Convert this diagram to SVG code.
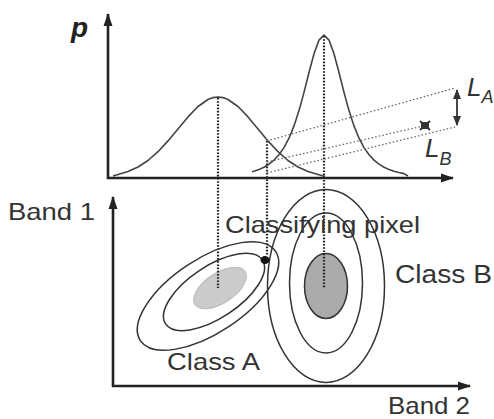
<svg xmlns="http://www.w3.org/2000/svg" width="494" height="419" viewBox="0 0 494 419">
<style>
.axis{stroke:#222;stroke-width:2.6;fill:none}
.curve{stroke:#444;stroke-width:1.6;fill:none;stroke-linejoin:round}
.drop{stroke:#222;stroke-width:2.2;stroke-dasharray:1.6 1.6;fill:none}
.proj{stroke:#666;stroke-width:1.3;stroke-dasharray:1.5 2.2;fill:none}
.ell{stroke:#333;stroke-width:1.5;fill:none}
.lbl{font-family:"Liberation Sans",Arial,sans-serif;font-size:24px;fill:#333}
.it{font-family:"Liberation Sans",Arial,sans-serif;font-style:italic;fill:#333}
</style>
<defs>
<marker id="ah" markerUnits="userSpaceOnUse" markerWidth="13" markerHeight="10" refX="12" refY="5" orient="auto"><path d="M0,0.5 L13,5 L0,9.5 z" fill="#222"/></marker>
<marker id="ah2" markerUnits="userSpaceOnUse" markerWidth="10" markerHeight="9" refX="9" refY="4.5" orient="auto-start-reverse"><path d="M0,0.5 L10,4.5 L0,8.5 z" fill="#333"/></marker>
</defs>
<rect width="494" height="419" fill="#fff"/>
<g id="ellipses-a">
<ellipse class="ell" cx="208" cy="296" rx="81" ry="37" transform="rotate(-33.4 208 296)"/>
<ellipse class="ell" cx="214" cy="292" rx="58" ry="26" transform="rotate(-33.4 214 292)"/>
<ellipse id="core-a" cx="220" cy="288" rx="30" ry="15" transform="rotate(-33.4 220 288)" fill="#cbcbcb" stroke="#bbb" stroke-width="1"/>
</g>
<g id="ellipses-b">
<ellipse class="ell" cx="326" cy="286" rx="58.5" ry="96.5"/>
<ellipse class="ell" cx="326" cy="283" rx="36.5" ry="70"/>
<ellipse id="core-b" cx="326" cy="286" rx="21.5" ry="32.5" fill="#ababab" stroke="#333" stroke-width="1.5"/>
</g>
<g id="curve-a">
<polyline class="curve" points="113,176 118,174.4 128,171.6 138,167 148,160.5 158,151.7 168,140.9 178,128.9 188,116.9 198,106.5 208,99.5 213,97.6 218,97 223,97.6 228,99.5 238,106.5 248,116.9 258,128.9 268,140.9 278,151.7 288,160.5 298,167 308,171.6 318,174.4 325,176.5"/>
</g>
<g id="curve-b">
<polyline class="curve" points="252,171.8 254,171.2 259,169.4 264,167.2 269,164.1 274,160.1 279,154.7 284,147.6 289,138.2 294,125.9 299,110.6 304,92.4 309,72.5 314,53.8 319,40.1 321.5,37.6 324,35 326.5,37.6 329,40.1 334,53.8 339,72.5 344,92.4 349,110.6 354,125.9 359,138.2 364,147.6 369,154.7 374,160.1 379,164.1 384,167.2 389,169.4 394,171.2 399,172.5 404,173.6 408,176"/>
</g>
<g id="connectors">
<line class="drop" x1="218" y1="98" x2="218" y2="288"/>
<line class="drop" x1="324" y1="36" x2="324" y2="288"/>
<line class="drop" x1="267" y1="141" x2="267" y2="256"/>
<line class="proj" x1="267" y1="141" x2="455" y2="88"/>
<line class="proj" x1="267" y1="162" x2="423" y2="126"/>
<line class="proj" x1="267" y1="173" x2="455" y2="127"/>
<line x1="457" y1="90" x2="457" y2="125" stroke="#333" stroke-width="1.8" marker-start="url(#ah2)" marker-end="url(#ah2)"/>
</g>
<g id="axes">
<line class="axis" x1="108" y1="179" x2="108" y2="14" marker-end="url(#ah)"/>
<line class="axis" x1="107" y1="178" x2="453" y2="178" marker-end="url(#ah)"/>
<line class="axis" x1="113" y1="387" x2="113" y2="197" marker-end="url(#ah)"/>
<line class="axis" x1="112" y1="386" x2="470" y2="386" marker-end="url(#ah)"/>
</g>
<g id="pixel">
<ellipse cx="265" cy="260" rx="4.5" ry="4" fill="#111"/>
</g>
<g id="marker-x">
<rect x="421" y="122" width="8" height="7" fill="#333"/>
<path d="M420,121 L430,130 M430,121 L420,130" stroke="#333" stroke-width="2"/>
</g>
<g id="labels">
<text x="71" y="37" font-family="Liberation Sans,Arial,sans-serif" font-size="28" font-weight="bold" font-style="italic" fill="#222">p</text>
<text class="lbl" x="8" y="220" textLength="87" lengthAdjust="spacingAndGlyphs">Band 1</text>
<text class="lbl" x="225" y="233" textLength="195" lengthAdjust="spacingAndGlyphs">Classifying pixel</text>
<text class="lbl" x="167" y="370" textLength="93" lengthAdjust="spacingAndGlyphs">Class A</text>
<text class="lbl" x="395" y="283" style="font-size:25px" textLength="97" lengthAdjust="spacingAndGlyphs">Class B</text>
<text class="lbl" x="388" y="414" textLength="82" lengthAdjust="spacingAndGlyphs">Band 2</text>
<text class="it" x="467" y="96" font-size="26">L<tspan font-size="18" dy="7">A</tspan></text>
<text class="it" x="425" y="157" font-size="26">L<tspan font-size="18" dy="8">B</tspan></text>
</g>
</svg>
